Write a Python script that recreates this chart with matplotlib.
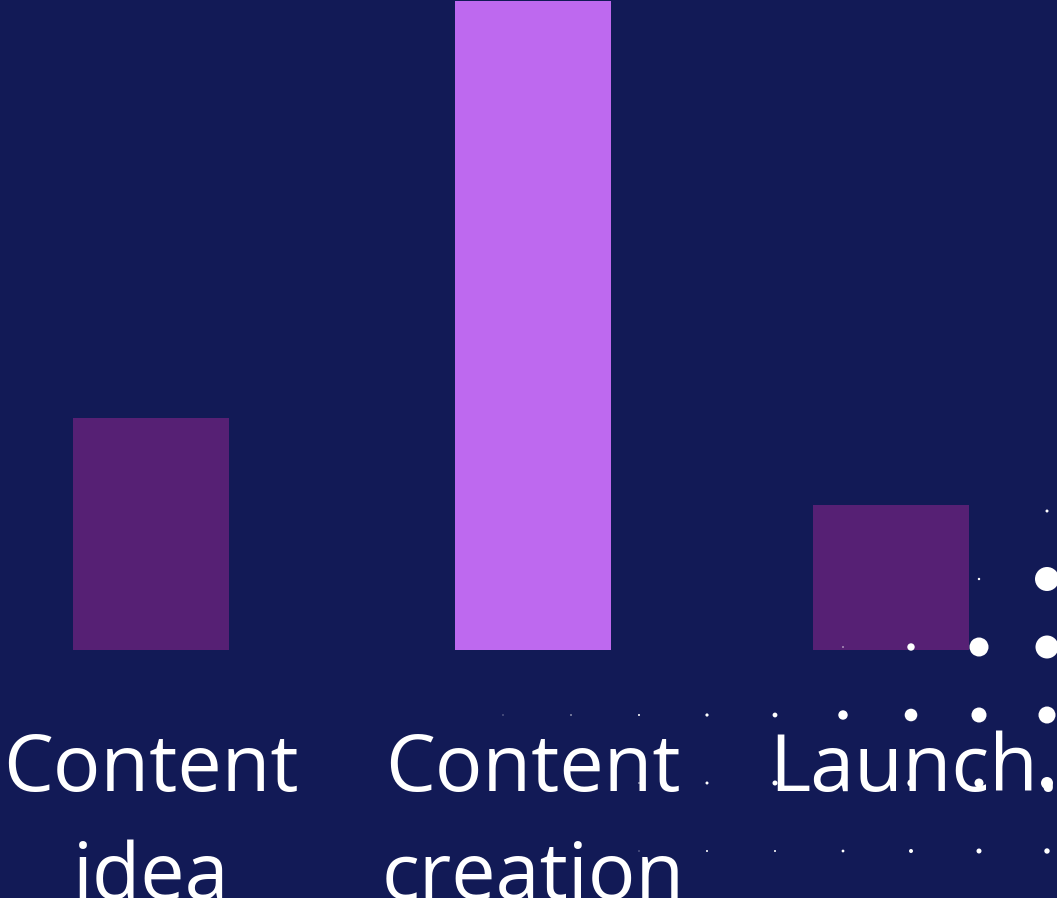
import numpy as np
import matplotlib
matplotlib.use('Agg')
import matplotlib.pyplot as plt

# chart data
labels = ['Content\nidea', 'Content\ncreation', 'Launch.']
values = [35.7, 100, 22.3]
colors = ['#562074', '#BE69EF', '#562074']

# decorative dot grid (radius in px), rows top->bottom, cols left->right
dot_r = [
    [0, 0, 0, 0, 0, 0, 0, 0, 1.5],
    [0, 0, 0, 0, 0, 0, 0, 1.2, 12],
    [0, 0, 0, 0, 0, 0.7, 3.7, 9.5, 11.5],
    [0.5, 0.7, 1.0, 1.6, 2.4, 4.7, 6.3, 7.5, 8.5],
    [0, 0, 0.7, 1.5, 2.5, 3.0, 3.6, 4.5, 6.0],
    [0, 0, 0.5, 1.0, 1.0, 1.4, 2.0, 2.5, 2.7],
]

BG = '#121A56'
W, H, DPI = 1057, 898, 100
xpos = [0, 1.032, 2]      # layout: middle bar sits slightly right
label_dx = [0, 0, 23]     # px nudge of label centres
baselines = [791, 899]    # px from top, one per text line

fig = plt.figure(figsize=(W / DPI, H / DPI), dpi=DPI, facecolor=BG)
ax = fig.add_axes([0, 0, 1, 1], facecolor=BG)
ax.bar(xpos, values, width=0.4216, color=colors, zorder=2)
ax.set_xlim(-151 / 370, (W - 151) / 370)
ax.set_ylim(-248 / 6.49, (H - 248) / 6.49)
ax.set_axis_off()

# dot grid on its own axes, one unit per 68 px cell
gx0, gy_top = 503 - 34, 511 - 34
dx = fig.add_axes([gx0 / W, (H - (gy_top + 68 * 6)) / H, 68 * 9 / W, 68 * 6 / H])
dx.set_xlim(-0.5, 8.5)
dx.set_ylim(5.5, -0.5)
dx.set_axis_off()
dx.patch.set_alpha(0)
r = np.array(dot_r)
rows, cols = np.nonzero(r)
sizes = (2 * r[rows, cols] * 72 / DPI) ** 2
dx.scatter(cols, rows, s=sizes, color='white', linewidths=0, zorder=3)

fam = ['Open Sans', 'DejaVu Sans']
for x, lab, off in zip(xpos, labels, label_dx):
    cx = (x * 370 + 151 + off) / W
    for line, base in zip(lab.split('\n'), baselines):
        fig.text(cx, (H - base) / H, line, ha='center', va='baseline',
                 fontsize=57, color='white', family=fam, zorder=4)

fig.savefig('out.png', dpi=DPI, facecolor=BG)
